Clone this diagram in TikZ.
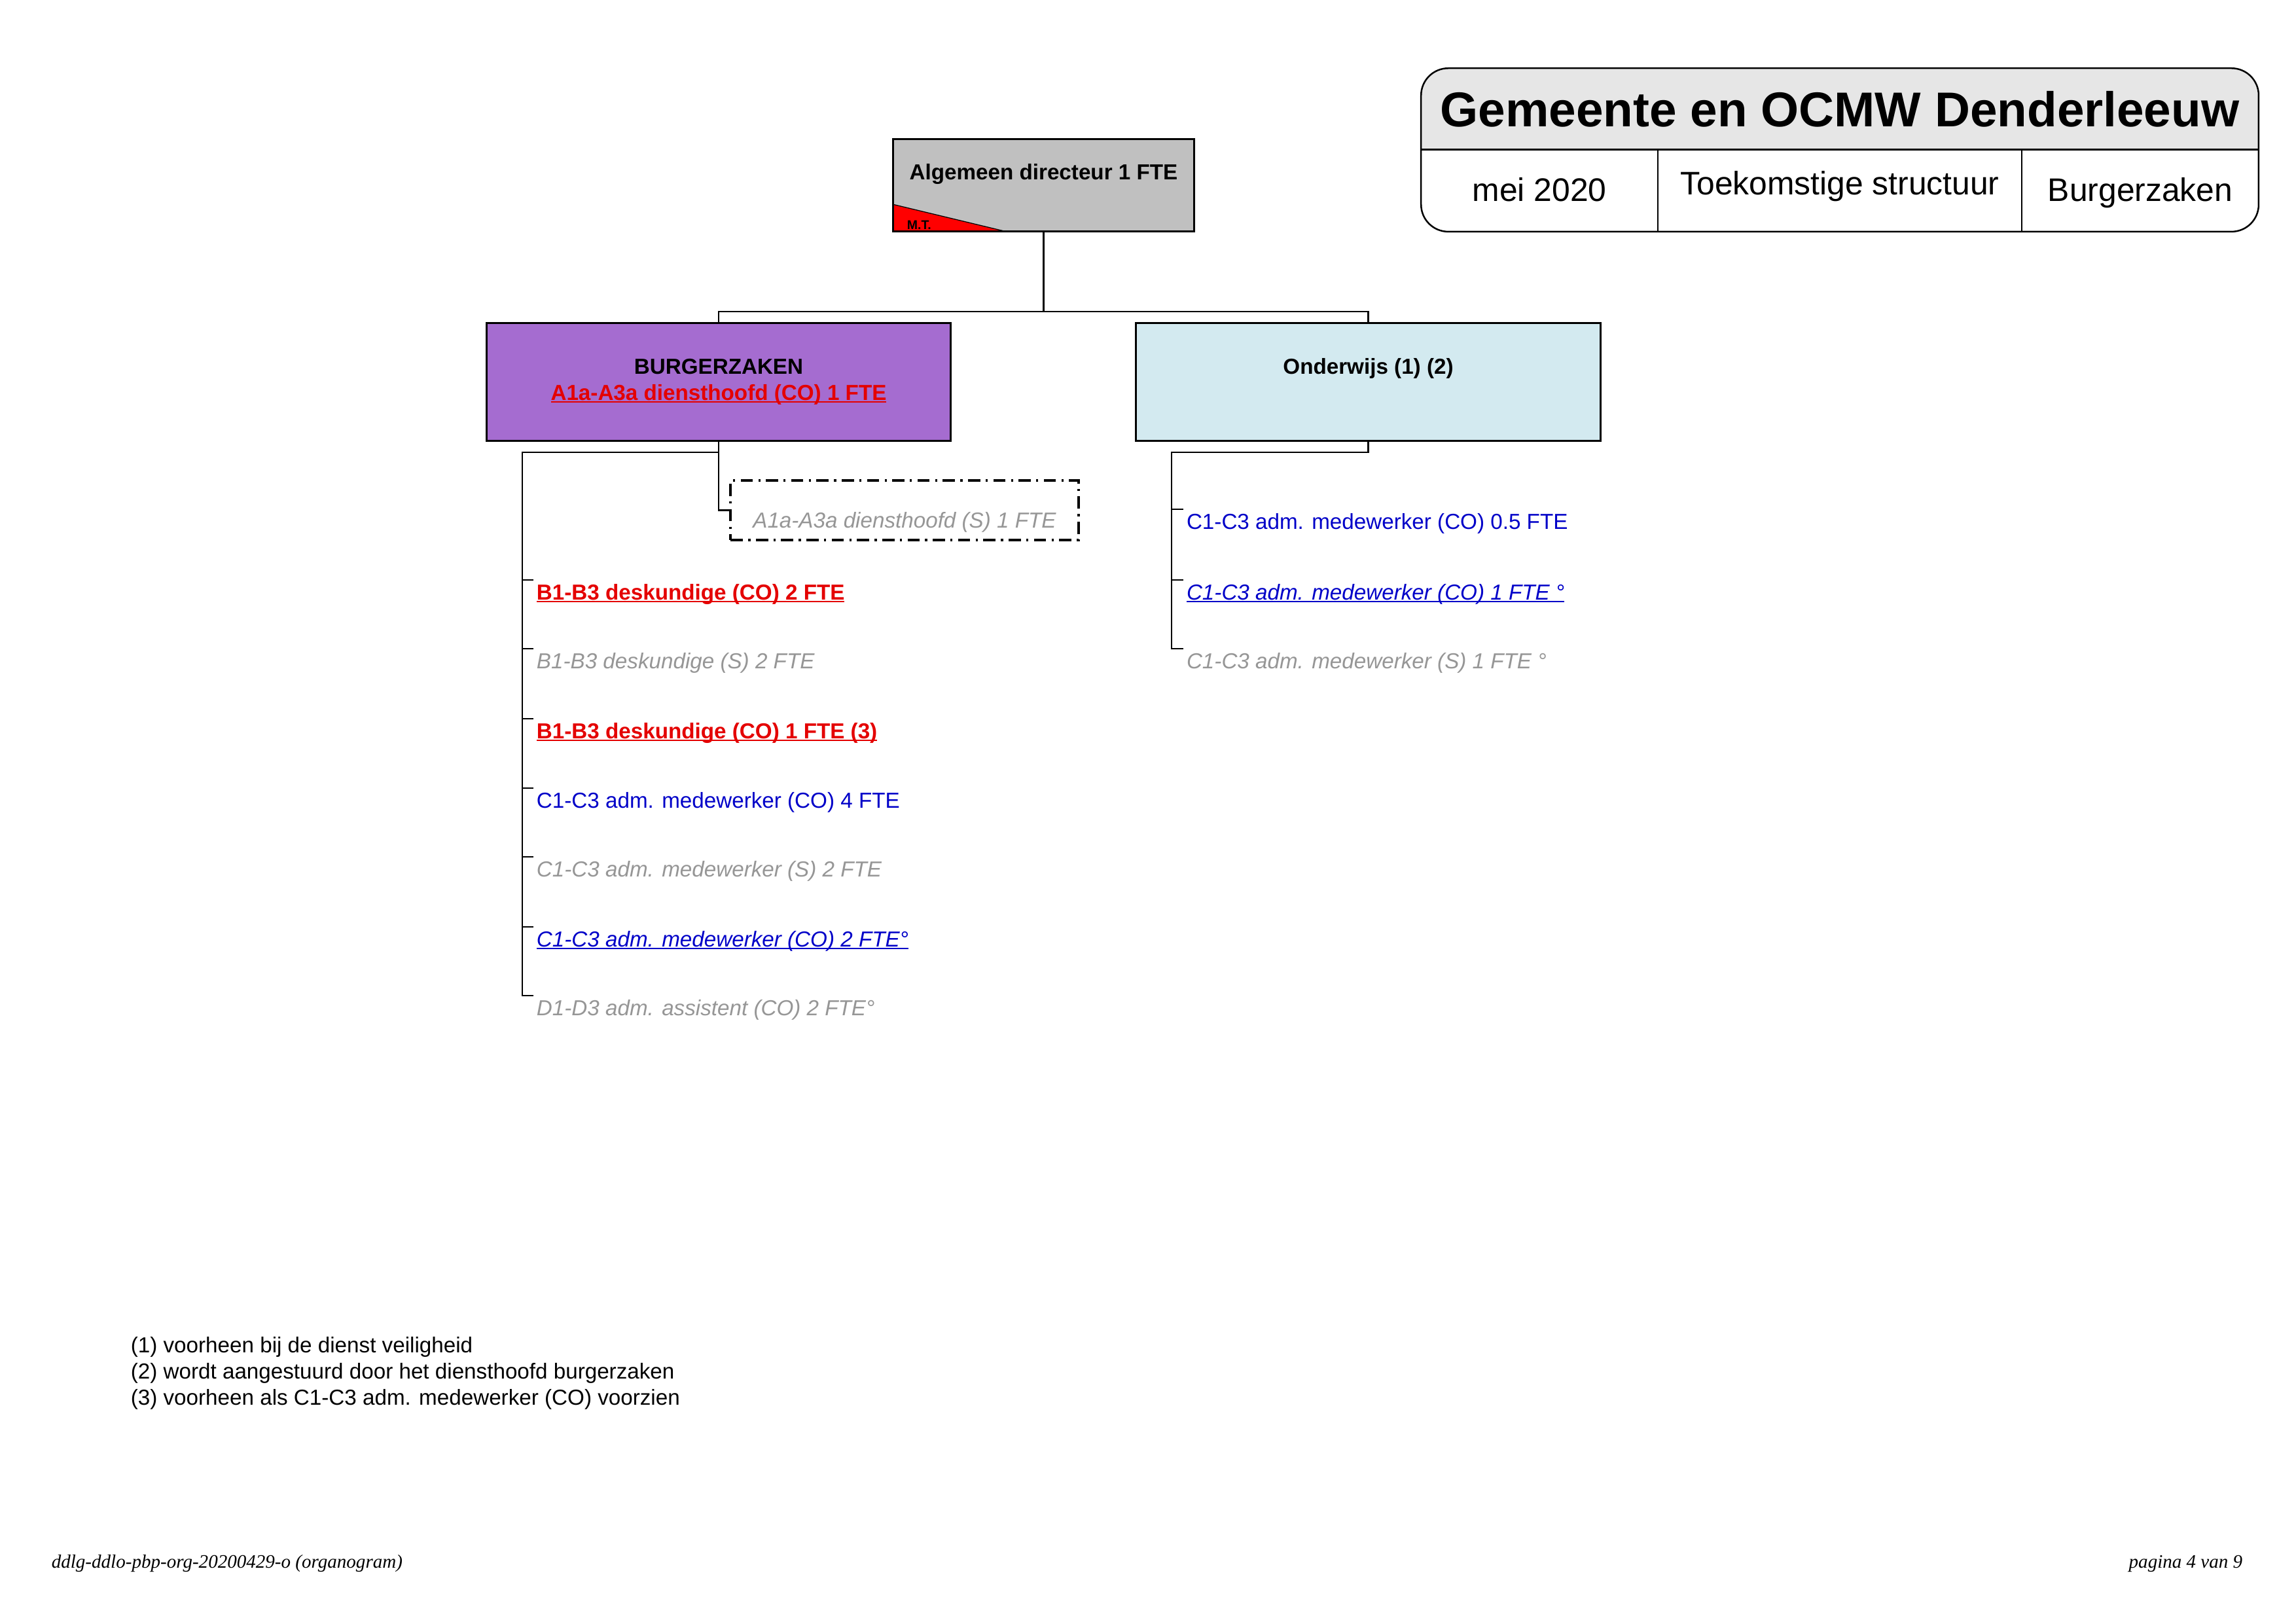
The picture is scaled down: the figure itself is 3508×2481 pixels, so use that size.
\documentclass[tikz,border=0pt]{standalone}
\usepackage{fontspec}
\setmainfont{Liberation Sans}
\newfontfamily\footerfont{Liberation Serif}
\usepackage{xcolor}
\usepackage{tikz}
\usetikzlibrary{positioning,calc,backgrounds}

\definecolor{dirgrey}{RGB}{192,192,192}
\definecolor{mtred}{RGB}{255,0,0}
\definecolor{bzpurple}{RGB}{165,108,208}
\definecolor{owblue}{RGB}{211,234,240}
\definecolor{hdrgrey}{RGB}{230,230,230}
\definecolor{cored}{RGB}{228,0,0}
\definecolor{coblue}{RGB}{0,0,200}
\definecolor{sgrey}{RGB}{150,150,150}
\newcommand{\orgfont}{\fontsize{8}{9.6}\selectfont}
\newcommand{\onderlijn}[1]{\setbox0=\hbox{#1}\rlap{\rule[-0.85pt]{\wd0}{0.45pt}}\box0}

\begin{document}
\begin{tikzpicture}[
  x=0.0846667mm, y=-0.0846667mm,
  dirbox/.style={draw, line width=0.7pt, fill=dirgrey, inner sep=0pt, minimum width=39mm, minimum height=11.9mm, font=\orgfont\bfseries},
  deptbox/.style={draw, line width=0.7pt, inner sep=0pt, minimum width=60.1mm, minimum height=15.2mm, font=\orgfont\bfseries},
  sparebox/.style={draw, line width=0.9pt, dash pattern=on 4.5pt off 2pt on 0.8pt off 2pt, inner sep=0pt, minimum width=45mm, text height=17.5pt, text depth=4.3pt, text=sgrey, font=\orgfont\itshape},
  item/.style={anchor=north west, inner xsep=1pt, inner ysep=0pt, text height=7.2pt, text depth=2pt, font=\orgfont},
  redco/.style={item, text=cored, font=\orgfont\bfseries},
  greys/.style={item, text=sgrey, font=\orgfont\itshape},
  blueco/.style={item, text=coblue},
  blueit/.style={item, text=coblue, font=\orgfont\itshape},
  hdrcell/.style={inner sep=0pt, minimum height=10.6mm, text height=9.6pt, text depth=1.2pt, font=\fontsize{12}{14}\selectfont},
  frame/.style={line width=0.6pt},
  conn/.style={line width=0.65pt},
  note/.style={anchor=base west, inner sep=0pt, font=\orgfont}
]
  \useasboundingbox (0,0) rectangle (3508,2481);

  % Header
  \node[inner sep=0pt, minimum width=108.2mm, minimum height=10.4mm, font=\fontsize{18}{21}\selectfont\bfseries] (title) at (2811,166.5) {Gemeente en OCMW Denderleeuw};
  \node[hdrcell, minimum width=30.5mm] (date) at (2352,290.5) {mei 2020};
  \node[hdrcell, minimum width=47.2mm, text depth=6pt] (kind) at (2811,290.5) {Toekomstige structuur};
  \node[hdrcell, minimum width=30.5mm] (dept) at (3270,290.5) {Burgerzaken};
  \begin{scope}[on background layer]
    \fill[hdrgrey, rounded corners=10pt] (title.south west) -- (title.north west) -- (title.north east) -- (title.south east);
  \end{scope}
  \draw[frame, rounded corners=10pt] (title.north west) rectangle (dept.south east);
  \draw[frame] (title.south west) -- (title.south east);
  \draw[frame] (date.north east) -- (date.south east);
  \draw[frame] (dept.north west) -- (dept.south west);

  % Director
  \node[dirbox, text height=14.7pt, text depth=19pt,
        path picture={\filldraw[fill=mtred, draw=black, line width=0.3pt] (path picture bounding box.south west) -- ([yshift=9.9pt]path picture bounding box.south west) -- ([xshift=41.2pt]path picture bounding box.south west) -- cycle;}]
        (dir) at (1594.5,283) {Algemeen directeur 1 FTE};
  \node[anchor=base west, inner sep=0pt, font=\fontsize{4.7}{5}\selectfont\bfseries] (mt) at (1385,351) {M.T.};

  % Departments
  \node[deptbox, fill=bzpurple, align=center] (bz) at (1098,583.5) {BURGERZAKEN\\\textcolor{cored}{\onderlijn{A1a-A3a diensthoofd (CO) 1 FTE}}};
  \node[deptbox, fill=owblue, text height=6pt, text depth=11.6pt] (ow) at (2090.5,583.5) {Onderwijs (1) (2)};

  % Burgerzaken staff
  \node[sparebox] (a1s) at (1382,779.5) {A1a-A3a diensthoofd (S) 1 FTE};
  \node[redco] (b1) at (815,886) {\onderlijn{B1-B3 deskundige (CO) 2 FTE}};
  \node[greys] (b2) at (815,991) {B1-B3 deskundige (S) 2 FTE};
  \node[redco] (b3) at (815,1098) {\onderlijn{B1-B3 deskundige (CO) 1 FTE (3)}};
  \node[blueco] (b4) at (815,1204) {C1-C3 adm. medewerker (CO) 4 FTE};
  \node[greys] (b5) at (815,1309) {C1-C3 adm. medewerker (S) 2 FTE};
  \node[blueit] (b6) at (815,1416) {\onderlijn{C1-C3 adm. medewerker (CO) 2 FTE°}};
  \node[greys] (b7) at (815,1521) {D1-D3 adm. assistent (CO) 2 FTE°};

  % Onderwijs staff
  \node[blueco] (o1) at (1808,778) {C1-C3 adm. medewerker (CO) 0.5 FTE};
  \node[blueit] (o2) at (1808,886) {\onderlijn{C1-C3 adm. medewerker (CO) 1 FTE °}};
  \node[greys] (o3) at (1808,991) {C1-C3 adm. medewerker (S) 1 FTE °};

  % Connectors
  \coordinate (split) at (1594.5,476);
  \coordinate (lrail) at (798,691);
  \coordinate (rrail) at (1790,691);
  \draw[conn] (dir.south) -- (split);
  \draw[conn] (bz.north) |- (split) -| (ow.north);
  \draw[conn] (bz.south) |- (a1s.west);
  \draw[conn] (bz.south) |- (lrail) -- (lrail |- b7.north west) -- (b7.north west);
  \draw[conn] (lrail |- b1.north west) -- (b1.north west)
              (lrail |- b2.north west) -- (b2.north west)
              (lrail |- b3.north west) -- (b3.north west)
              (lrail |- b4.north west) -- (b4.north west)
              (lrail |- b5.north west) -- (b5.north west)
              (lrail |- b6.north west) -- (b6.north west);
  \draw[conn] (ow.south) |- (rrail) -- (rrail |- o3.north west) -- (o3.north west);
  \draw[conn] (rrail |- o1.north west) -- (o1.north west)
              (rrail |- o2.north west) -- (o2.north west);

  % Footnotes
  \node[note] (fn1) at (199,2066) {(1) voorheen bij de dienst veiligheid};
  \node[note] (fn2) at (199,2106) {(2) wordt aangestuurd door het diensthoofd burgerzaken};
  \node[note] (fn3) at (199,2146) {(3) voorheen als C1-C3 adm. medewerker (CO) voorzien};

  % Footer
  \node[anchor=base west, inner sep=0pt, font=\footerfont\itshape\fontsize{7}{8}\selectfont] (docid) at (78,2395) {ddlg-ddlo-pbp-org-20200429-o (organogram)};
  \node[anchor=base east, inner sep=0pt, font=\footerfont\itshape\fontsize{7}{8}\selectfont] (page) at (3427,2395) {pagina 4 van 9};
\end{tikzpicture}
\end{document}
